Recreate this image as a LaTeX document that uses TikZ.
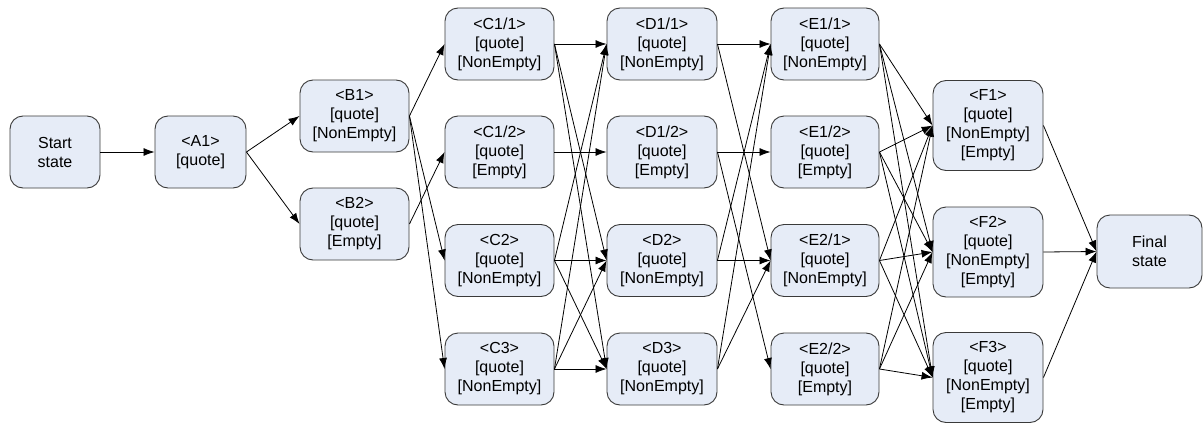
\documentclass[tikz,border=0pt]{standalone}
\usepackage{fontspec}
\setmainfont{Liberation Sans}
\usetikzlibrary{arrows.meta}
\definecolor{boxfill}{HTML}{E6ECF7}
\definecolor{boxdraw}{HTML}{3A3A3A}
\tikzset{
  state/.style={draw=boxdraw, fill=boxfill, line width=0.9pt, rounded corners=13pt,
    inner sep=0pt, align=center, minimum width=109pt, minimum height=72pt,
    font=\fontsize{16}{19}\selectfont},
  tall/.style={minimum height=90pt},
  conn/.style={draw=black, line width=0.8pt, -{Latex[length=11pt,width=8pt]}}
}
\begin{document}
\begin{tikzpicture}[x=1pt,y=-1pt]
\useasboundingbox (0,0) rectangle (1203,423);
\node[state, minimum width=90pt] (start) at (55,152) {Start\\state};
\node[state, minimum width=91pt] (a1) at (200.5,152) {<A1>\\{[quote]}};
\node[state] (b1) at (354.5,116) {<B1>\\{[quote]}\\{[NonEmpty]}};
\node[state] (b2) at (354.5,224) {<B2>\\{[quote]}\\{[Empty]}};
\node[state] (c11) at (499.5,44) {<C1/1>\\{[quote]}\\{[NonEmpty]}};
\node[state] (c12) at (499.5,152) {<C1/2>\\{[quote]}\\{[Empty]}};
\node[state] (c2) at (499.5,260.5) {<C2>\\{[quote]}\\{[NonEmpty]}};
\node[state] (c3) at (499.5,369) {<C3>\\{[quote]}\\{[NonEmpty]}};
\node[state, minimum width=110pt] (d11) at (662,44) {<D1/1>\\{[quote]}\\{[NonEmpty]}};
\node[state, minimum width=110pt] (d12) at (662,152) {<D1/2>\\{[quote]}\\{[Empty]}};
\node[state, minimum width=110pt] (d2) at (662,260.5) {<D2>\\{[quote]}\\{[NonEmpty]}};
\node[state, minimum width=110pt] (d3) at (662,369) {<D3>\\{[quote]}\\{[NonEmpty]}};
\node[state, minimum width=108pt] (e11) at (825,44) {<E1/1>\\{[quote]}\\{[NonEmpty]}};
\node[state, minimum width=108pt] (e12) at (825,152) {<E1/2>\\{[quote]}\\{[Empty]}};
\node[state, minimum width=108pt] (e21) at (825,260.5) {<E2/1>\\{[quote]}\\{[NonEmpty]}};
\node[state, minimum width=108pt] (e22) at (825,369) {<E2/2>\\{[quote]}\\{[Empty]}};
\node[state, tall, minimum width=110pt] (f1) at (988,125.5) {<F1>\\{[quote]}\\{[NonEmpty]}\\{[Empty]}};
\node[state, tall, minimum width=110pt] (f2) at (988,252) {<F2>\\{[quote]}\\{[NonEmpty]}\\{[Empty]}};
\node[state, tall, minimum width=110pt] (f3) at (988,377.5) {<F3>\\{[quote]}\\{[NonEmpty]}\\{[Empty]}};
\node[state, minimum width=105pt, minimum height=73pt] (final) at (1149.5,251.5) {Final\\state};
% edges
\draw[conn] (start) -- (a1);
\draw[conn] (a1.east) -- (b1.west);
\draw[conn] (a1.east) -- (b2.west);
\foreach \t in {c11,c2,c3} \draw[conn] (b1.east) -- (\t.west);
\draw[conn] (b2.east) -- (c12.west);
\foreach \s in {c11,c2,c3} \foreach \t in {d11,d2,d3} \draw[conn] (\s.east) -- (\t.west);
\draw[conn] (c12.east) -- (d12.west);
\draw[conn] (d11.east) -- (e11.west);
\draw[conn] (d11.east) -- (e21.west);
\draw[conn] (d12.east) -- (e12.west);
\draw[conn] (d12.east) -- (e22.west);
\draw[conn] (d2.east) -- (e11.west);
\draw[conn] (d2.east) -- (e21.west);
\draw[conn] (d3.east) -- (e11.west);
\draw[conn] (d3.east) -- (e21.west);
\foreach \s in {e11,e12,e21,e22} \foreach \t in {f1,f2,f3} \draw[conn] (\s.east) -- (\t.west);
\foreach \s in {f1,f2,f3} \draw[conn] (\s.east) -- (final.west);
\end{tikzpicture}
\end{document}
